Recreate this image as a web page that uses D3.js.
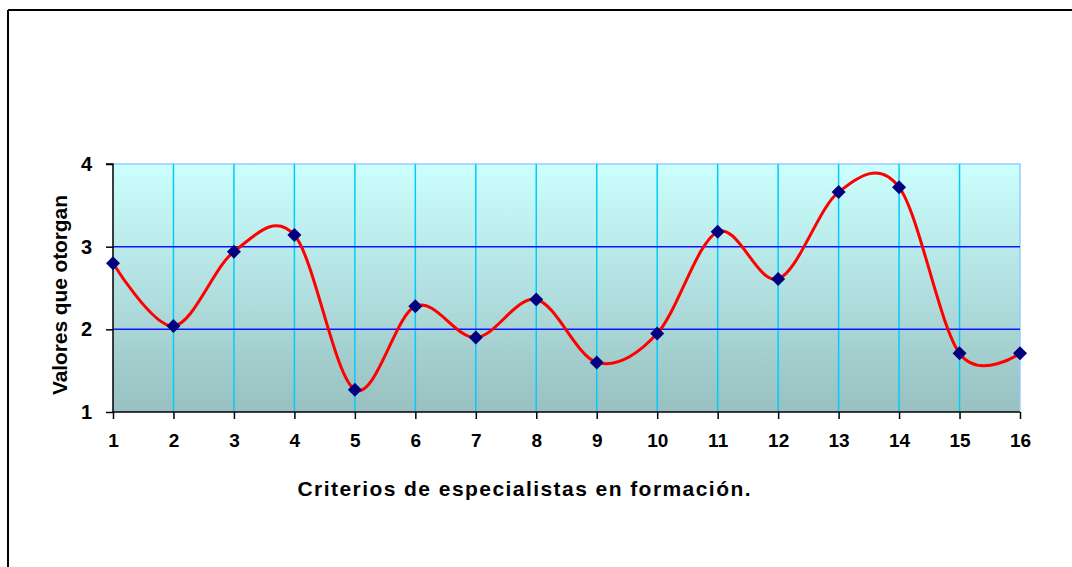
<!DOCTYPE html>
<html>
<head>
<meta charset="utf-8">
<script src="https://cdn.jsdelivr.net/npm/d3@7"></script>
<style>
  html, body { margin: 0; padding: 0; background: #fff; }
  svg { display: block; font-family: "Liberation Sans", Arial, sans-serif; }
</style>
</head>
<body>
<svg id="chart" width="1072" height="567"></svg>
<script>
// Criteria (1..16) and the values assigned to each
const categories = [1, 2, 3, 4, 5, 6, 7, 8, 9, 10, 11, 12, 13, 14, 15, 16];
const values = [2.80, 2.04, 2.94, 3.14, 1.27, 2.28, 1.90, 2.36, 1.60, 1.95, 3.18, 2.61, 3.66, 3.72, 1.71, 1.71];
const yTicks = [1, 2, 3, 4];
const xTitle = "Criterios de especialistas en formación.";
const yTitle = "Valores que otorgan";

const svg = d3.select("#chart");
const plot = { left: 113, right: 1020, top: 164, bottom: 412 };
const FONT = "Liberation Sans, Arial, sans-serif";

const x = d3.scaleLinear().domain([1, 16]).range([plot.left, plot.right]);
const y = d3.scaleLinear().domain([1, 4]).range([plot.bottom, plot.top]);

// Outer frame (top and left edges visible)
svg.append("line").attr("x1", 8).attr("x2", 1072).attr("y1", 10).attr("y2", 10)
  .attr("stroke", "#000").attr("stroke-width", 2);
svg.append("line").attr("x1", 8).attr("x2", 8).attr("y1", 10).attr("y2", 567)
  .attr("stroke", "#000").attr("stroke-width", 2);

// Plot area gradient
const defs = svg.append("defs");
const grad = defs.append("linearGradient").attr("id", "bg")
  .attr("x1", 0).attr("y1", 0).attr("x2", 0).attr("y2", 1);
grad.append("stop").attr("offset", "0%").attr("stop-color", "#ccffff");
grad.append("stop").attr("offset", "100%").attr("stop-color", "#98c0c0");

svg.append("rect")
  .attr("x", plot.left).attr("y", plot.top)
  .attr("width", plot.right - plot.left).attr("height", plot.bottom - plot.top)
  .attr("fill", "url(#bg)");

// Plot area border (top and right)
svg.append("path")
  .attr("d", `M${plot.left},${plot.top}H${plot.right}V${plot.bottom}`)
  .attr("fill", "none").attr("stroke", "#99ccff").attr("stroke-width", 1.5);

// Vertical gridlines
svg.append("g").selectAll("line")
  .data(categories.filter(c => c > 1 && c < 16))
  .join("line")
  .attr("x1", d => x(d)).attr("x2", d => x(d))
  .attr("y1", plot.top).attr("y2", plot.bottom)
  .attr("stroke", "#00ccff").attr("stroke-width", 1.5);

// Horizontal gridlines
svg.append("g").selectAll("line")
  .data(yTicks.filter(v => v > 1 && v < 4))
  .join("line")
  .attr("x1", plot.left).attr("x2", plot.right)
  .attr("y1", d => y(d)).attr("y2", d => y(d))
  .attr("stroke", "#0a14ff").attr("stroke-width", 1.5);

// Y axis
const yAxis = svg.append("g")
  .attr("transform", `translate(${plot.left},0)`)
  .call(d3.axisLeft(y).tickValues(yTicks).tickFormat(d3.format("d")).tickSize(7).tickPadding(14));
yAxis.select(".domain").attr("stroke", "#000").attr("stroke-width", 1.5)
  .attr("d", `M${-7},${plot.top}H0V${plot.bottom}`);
yAxis.selectAll(".tick line").attr("stroke", "#000").attr("stroke-width", 1.5);
yAxis.selectAll(".tick text")
  .style("font-size", "20px").style("font-weight", "bold").style("font-family", FONT)
  .attr("fill", "#000");

// X axis
const xAxis = svg.append("g")
  .attr("transform", `translate(0,${plot.bottom})`)
  .call(d3.axisBottom(x).tickValues(categories).tickFormat(d3.format("d")).tickSize(7).tickPadding(15));
xAxis.select(".domain").attr("stroke", "#000").attr("stroke-width", 1.5)
  .attr("d", `M${plot.left},0H${plot.right}`);
xAxis.selectAll(".tick line").attr("stroke", "#000").attr("stroke-width", 1.5);
xAxis.selectAll(".tick text")
  .style("font-size", "19px").style("font-weight", "bold").style("font-family", FONT)
  .attr("fill", "#000");

// Smoothed series line
const pts = categories.map((c, i) => [c, values[i]]);
svg.append("path")
  .datum(pts)
  .attr("fill", "none")
  .attr("stroke", "#ff0000")
  .attr("stroke-width", 3)
  .attr("d", d3.line().x(d => x(d[0])).y(d => y(d[1])).curve(d3.curveCatmullRom.alpha(0)));

// Diamond markers
svg.append("g").selectAll("path")
  .data(pts)
  .join("path")
  .attr("transform", d => `translate(${x(d[0])},${y(d[1])})`)
  .attr("d", "M0,-7L7,0L0,7L-7,0Z")
  .attr("fill", "#000080");

// Axis titles
svg.append("text")
  .attr("x", 524).attr("y", 496)
  .attr("text-anchor", "middle")
  .style("font-size", "21px").style("font-weight", "bold").style("font-family", FONT)
  .attr("textLength", 453).attr("lengthAdjust", "spacing")
  .text(xTitle);

svg.append("text")
  .attr("transform", "translate(67,295) rotate(-90)")
  .attr("text-anchor", "middle")
  .style("font-size", "21px").style("font-weight", "bold").style("font-family", FONT)
  .attr("textLength", 200).attr("lengthAdjust", "spacing")
  .text(yTitle);
</script>
</body>
</html>
